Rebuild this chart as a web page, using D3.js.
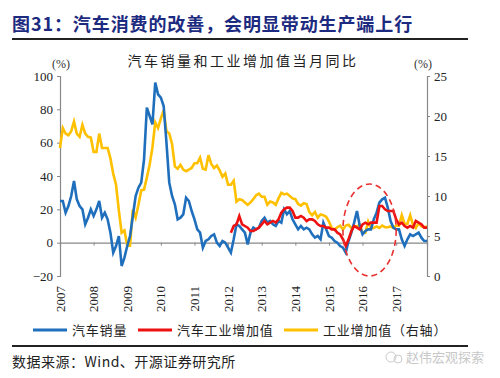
<!DOCTYPE html>
<html>
<head>
<meta charset="utf-8">
<script src="https://cdn.jsdelivr.net/npm/d3@7"></script>
<style>
  body { margin: 0; background: #fff; }
  svg text { font-family: "Liberation Serif", "Noto Sans CJK SC", serif; }
  .cjk { font-family: "Noto Sans CJK SC", sans-serif; }
</style>
</head>
<body>
<div id="chart"></div>
<script>
// monthly, 2007-01 .. 2017-12
var yearLabels = ["2007","2008","2009","2010","2011","2012","2013","2014","2015","2016","2017"];

// 汽车销量 同比 (left axis, %)
var autoSales = [
  25, 25, 18, 22, 28, 37, 26, 22, 20, 11, 15, 20,
  16, 20, 25, 15, 18, 14, 6, -6, -2, 4, -14, -9,
  -2, 4, 16, 28, 33, 36, 50, 81, 76, 71, 96, 89,
  87, 82, 60, 36, 28, 23, 14, 15, 17, 27, 25, 19,
  14, 8, 6, -3, 1, 2, 4, 5, 0, -2, 1, 0,
  -3, -6, 2, 11, 10, 8, 6, -1, 6, 9, 8, 9,
  13, 15, 12, 13, 11, 10, 13, 12, 20, 17, 19, 14,
  11, 8, 10, 8, 9, 8, 5, 3, 4, 2, 12, 8,
  4, 3, 1, 0, -2, -3, -6, 1, 6, 12, 19, 10,
  5, 7, 8, 8, 14, 18, 24, 26, 27, 21, 13, 9,
  8, 8, 2, -2, 2, 5, 4, 5, 6, 3, 1, 1
];

// 汽车工业增加值 同比 (left axis, %), starts 2012-02
var autoIVA = [
  null, null, null, null, null, null, null, null, null, null, null, null,
  null, null, null, null, null, null, null, null, null, null, null, null,
  null, null, null, null, null, null, null, null, null, null, null, null,
  null, null, null, null, null, null, null, null, null, null, null, null,
  null, null, null, null, null, null, null, null, null, null, null, null,
  null, 6, 10, 11, 16, 11, 10, 9, 7, 7, 8, 9,
  11, 13, 11, 12, 13, 12, 14, 18, 20, 21, 21, 19,
  15, 15, 16, 15, 13, 14, 14, 13, 11, 10, 10, 9,
  9, 8, 8, 6, 5, 2, -2, 2, 7, 10, 9, 8,
  11, 12, 11, 12, 12, 12, 22, 22, 20, 19, 19, 19,
  14, 11, 12, 10, 9, 10, 9, 13, 12, 11, 9, 9
];

// 工业增加值 同比 (right axis, %)
var industryIVA = [
  16.0, 18.5, 17.8, 17.6, 18.1, 19.3, 17.8, 17.4, 18.9, 17.8, 17.4, 17.3,
  15.5, 15.5, 17.8, 16.0, 16.0, 16.0, 14.7, 12.8, 11.4, 8.2, 5.4, 5.7,
  3.8, 3.8, 8.3, 7.3, 8.9, 10.7, 10.8, 12.3, 13.9, 16.1, 19.2, 18.5,
  19.7, 20.7, 18.1, 17.8, 16.5, 13.7, 13.4, 13.9, 13.3, 13.1, 13.3, 13.5,
  14.1, 14.1, 14.8, 13.4, 13.3, 15.1, 14.0, 13.5, 13.8, 13.2, 12.4, 12.8,
  11.4, 11.4, 11.9, 9.3, 9.6, 9.5, 9.2, 8.9, 9.2, 9.6, 10.1, 10.3,
  9.9, 9.9, 8.9, 9.3, 9.2, 8.9, 9.7, 10.4, 10.2, 10.3, 10.0, 9.7,
  9.6, 9.0, 8.8, 9.1, 9.0, 8.0, 7.6, 8.0, 7.3, 7.7, 7.6, 7.4,
  6.8, 6.0, 5.8, 6.1, 6.3, 5.8, 6.3, 6.4, 6.0, 6.2, 6.2, 6.4,
  5.4, 5.4, 6.8, 6.0, 6.0, 6.2, 6.0, 6.3, 6.1, 6.1, 6.2, 6.0,
  6.3, 6.3, 7.6, 6.5, 6.5, 7.6, 6.4, 6.0, 6.6, 6.2, 6.1, 6.2
];

var leftTicks = [-20, 0, 20, 40, 60, 80, 100];
var rightTicks = [0, 5, 10, 15, 20, 25];

var width = 500, height = 378;
var svg = d3.select("#chart").append("svg")
    .attr("width", width)
    .attr("height", height);

var x = d3.scaleLinear().domain([0, autoSales.length - 1]).range([60, 427]);
var yL = d3.scaleLinear().domain([-20, 100]).range([276, 76]);
var yR = d3.scaleLinear().domain([0, 25]).range([276, 76]);

// title + rules
svg.append("text").attr("class", "cjk")
    .attr("x", 12).attr("y", 31)
    .attr("font-size", 18).attr("font-weight", "bold").attr("fill", "#1c2a80")
    .attr("letter-spacing", 0.9)
    .text("图31：汽车消费的改善，会明显带动生产端上行");
svg.append("line").attr("x1", 12).attr("x2", 468).attr("y1", 39).attr("y2", 39)
    .attr("stroke", "#222").attr("stroke-width", 2);
svg.append("line").attr("x1", 12).attr("x2", 468).attr("y1", 346).attr("y2", 346)
    .attr("stroke", "#222").attr("stroke-width", 2);

svg.append("text").attr("class", "cjk")
    .attr("x", 243).attr("y", 66).attr("text-anchor", "middle")
    .attr("font-size", 14).attr("letter-spacing", 2.5).attr("fill", "#222")
    .text("汽车销量和工业增加值当月同比");

svg.append("text").attr("x", 61).attr("y", 68).attr("text-anchor", "middle")
    .attr("font-size", 12).attr("fill", "#333").text("(%)");
svg.append("text").attr("x", 423).attr("y", 68).attr("text-anchor", "middle")
    .attr("font-size", 12).attr("fill", "#333").text("(%)");

// axes
var axisColor = "#888";
var gl = svg.append("g").attr("transform", "translate(60,0)")
    .call(d3.axisLeft(yL).tickValues(leftTicks).tickSize(3).tickPadding(4));
var gr = svg.append("g").attr("transform", "translate(427,0)")
    .call(d3.axisRight(yR).tickValues(rightTicks).tickSize(3).tickPadding(4));
[gl, gr].forEach(function(g) {
  g.select(".domain").attr("stroke", axisColor).attr("stroke-width", 1.2);
  g.selectAll(".tick line").attr("stroke", axisColor);
  g.selectAll(".tick text").attr("font-size", 13).attr("fill", "#222")
    .attr("font-family", "Liberation Serif");
});

var yearIdx = yearLabels.map(function(d, i) { return i * 12; });
var gx = svg.append("g").attr("transform", "translate(0," + yL(0) + ")")
    .call(d3.axisBottom(x).tickValues(yearIdx).tickSize(3).tickFormat(""));
gx.select(".domain").attr("stroke", axisColor).attr("stroke-width", 1.2);
gx.selectAll(".tick line").attr("stroke", axisColor);

svg.append("g").selectAll("text").data(yearLabels).enter().append("text")
    .attr("transform", function(d, i) { return "translate(" + x(i * 12) + ",286) rotate(-90)"; })
    .attr("text-anchor", "end").attr("dy", "0.35em")
    .attr("font-size", 13).attr("fill", "#222")
    .text(function(d) { return d; });

// lines
var lineL = d3.line()
    .defined(function(d) { return d != null; })
    .x(function(d, i) { return x(i); })
    .y(function(d) { return yL(d); });
var lineR = d3.line()
    .x(function(d, i) { return x(i); })
    .y(function(d) { return yR(d); });

svg.append("path").datum(industryIVA).attr("d", lineR)
    .attr("fill", "none").attr("stroke", "#ffc000").attr("stroke-width", 2.6);
svg.append("path").datum(autoSales).attr("d", lineL)
    .attr("fill", "none").attr("stroke", "#1f6fbd").attr("stroke-width", 2.6);
svg.append("path").datum(autoIVA).attr("d", lineL)
    .attr("fill", "none").attr("stroke", "#ee1111").attr("stroke-width", 2.6);

// dashed ellipse highlight around 2016
svg.append("ellipse")
    .attr("cx", (x(101) + x(120)) / 2).attr("cy", 230)
    .attr("rx", (x(120) - x(101)) / 2).attr("ry", 46)
    .attr("fill", "none").attr("stroke", "#e83030")
    .attr("stroke-width", 1.6).attr("stroke-dasharray", "6,4");

// legend
var legend = [
  { name: "汽车销量", color: "#1f6fbd", x: 33 },
  { name: "汽车工业增加值", color: "#ee1111", x: 138 },
  { name: "工业增加值（右轴）", color: "#ffc000", x: 284 }
];
var lg = svg.append("g").selectAll("g").data(legend).enter().append("g")
    .attr("transform", function(d) { return "translate(" + d.x + ",330)"; });
lg.append("line").attr("x1", 0).attr("x2", 34).attr("y1", 0).attr("y2", 0)
    .attr("stroke", function(d) { return d.color; }).attr("stroke-width", 3);
lg.append("text").attr("class", "cjk").attr("x", 39).attr("y", 5)
    .attr("font-size", 13).attr("letter-spacing", 0.8).attr("fill", "#222")
    .text(function(d) { return d.name; });

// source + watermark
svg.append("text").attr("class", "cjk")
    .attr("x", 12).attr("y", 367)
    .attr("font-size", 14).attr("letter-spacing", 0.5).attr("fill", "#222")
    .text("数据来源：Wind、开源证券研究所");
svg.append("text").attr("class", "cjk")
    .attr("x", 484).attr("y", 362).attr("text-anchor", "end")
    .attr("font-size", 13).attr("fill", "#c8c8c8")
    .text("赵伟宏观探索");
svg.append("circle").attr("cx", 391).attr("cy", 357).attr("r", 5)
    .attr("fill", "none").attr("stroke", "#ccc").attr("stroke-width", 1);
svg.append("circle").attr("cx", 398).attr("cy", 359).attr("r", 4)
    .attr("fill", "none").attr("stroke", "#ccc").attr("stroke-width", 1);
</script>
</body>
</html>
